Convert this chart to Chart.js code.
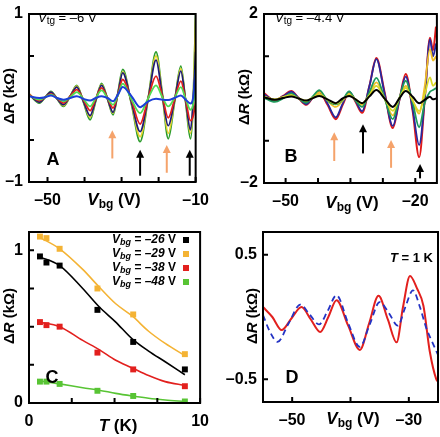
<!DOCTYPE html>
<html>
<head>
<meta charset="utf-8">
<script src="https://cdn.jsdelivr.net/npm/chart.js@4.4.0/dist/chart.umd.min.js"></script>
<style>
    body { margin: 0; background: #fff; }
    #page { position: relative; width: 440px; height: 437px; }
    canvas { position: absolute; }
</style>
</head>
<body>
<div id="page">
    <canvas id="panneau-a" width="220" height="218" style="left:0;top:0"></canvas>
    <canvas id="panneau-b" width="220" height="218" style="left:220px;top:0"></canvas>
    <canvas id="panneau-c" width="220" height="219" style="left:0;top:218px"></canvas>
    <canvas id="panneau-d" width="220" height="219" style="left:220px;top:218px"></canvas>
</div>
<script>
// ---- Panneau A : V_tg = -6 V (mesures à plusieurs températures)
const vbgA = [-55, -52.2, -50.6, -49.1, -47.4, -45.7, -43.9, -42.1, -40.3, -38.5, -37, -35.4, -33.8, -32.3, -31, -29.7, -27.3, -25.0, -22.8, -20.7, -19, -17.4, -15.7, -14.0, -12.7, -11.4, -10.7, -10];
const aVert = [0.05, -0.06, 0.01, 0.08, -0.01, -0.10, 0.02, 0.15, -0.05, -0.26, -0.04, 0.175, -0.01, -0.20, 0.06, 0.34, -0.08, -0.52, 0.00, 0.55, 0.05, -0.485, -0.05, 0.38, -0.05, -0.485, -0.10, 1.00];
const aJaune = [0.05, -0.05, 0.01, 0.07, -0.01, -0.09, 0.02, 0.14, -0.04, -0.23, -0.03, 0.16, -0.01, -0.18, 0.05, 0.31, -0.07, -0.46, 0.00, 0.50, 0.04, -0.42, -0.04, 0.35, -0.04, -0.42, -0.08, 0.95];
const aMarine = [0.04, -0.05, 0.01, 0.07, -0.01, -0.08, 0.02, 0.13, -0.04, -0.21, -0.03, 0.15, -0.01, -0.17, 0.05, 0.30, -0.06, -0.40, 0.00, 0.45, 0.03, -0.33, -0.03, 0.32, -0.03, -0.38, -0.06, 0.55];
const aRouge = [0.04, -0.03, 0.01, 0.05, 0.00, -0.06, 0.02, 0.10, -0.02, -0.15, -0.01, 0.12, 0.00, -0.12, 0.04, 0.22, -0.03, -0.31, 0.00, 0.26, 0.02, -0.235, -0.02, 0.20, -0.02, -0.27, -0.22, -0.05];
const aVertClair = [0.03, -0.02, 0.01, 0.04, 0.00, -0.04, 0.01, 0.07, -0.01, -0.10, 0.00, 0.09, 0.00, -0.08, 0.03, 0.17, -0.02, -0.18, 0.00, 0.15, 0.01, -0.10, 0.00, 0.13, -0.01, -0.14, -0.08, 0.15];
const aBleu = [0.02, 0.00, 0.01, 0.03, 0.00, -0.02, 0.00, 0.02, -0.01, -0.03, 0.00, 0.02, 0.00, -0.04, 0.04, 0.13, 0.02, -0.11, -0.04, -0.01, -0.02, -0.025, 0.00, 0.03, -0.02, -0.065, 0.00, 0.34];
// flèches : [V_bg, bas, pointe, couleur]
const flechesA = [[-32.5, -0.72, -0.385, "orange"], [-25, -0.925, -0.615, "noir"], [-17.8, -0.89, -0.56, "orange"], [-11.6, -0.925, -0.615, "noir"]];

// ---- Panneau B : V_tg = -4.4 V
const vbgB = [-55, -52.5, -50.6, -48.7, -47, -45.2, -43.7, -42.2, -40.3, -38.4, -36.8, -35.3, -33.8, -32.3, -30.6, -29.0, -27.1, -25.2, -23.7, -22.2, -20.6, -19.1, -17.8, -16.6, -15.9, -15.2];
const bRouge = [0.13, -0.05, 0.06, 0.175, 0.01, -0.15, 0.02, 0.15, -0.15, -0.49, -0.15, 0.15, -0.08, -0.34, 0.30, 0.96, 0.15, -0.70, -0.05, 0.58, -0.30, -1.39, 0.00, 1.44, 1.14, 1.70];
const bMarine = [0.10, -0.04, 0.05, 0.16, 0.01, -0.13, 0.03, 0.17, -0.12, -0.45, -0.12, 0.16, -0.06, -0.30, 0.30, 0.93, 0.12, -0.65, -0.05, 0.52, -0.25, -1.10, 0.00, 1.40, 1.00, 1.30];
const bOrange = [0.05, -0.03, 0.03, 0.10, 0.00, -0.08, 0.03, 0.15, -0.05, -0.20, -0.05, 0.12, -0.03, -0.15, 0.10, 0.38, 0.00, -0.40, 0.00, 0.30, -0.05, -0.36, 0.30, 1.17, 0.90, 1.00];
const bVert = [0.02, -0.08, 0.00, 0.12, 0.00, -0.10, 0.05, 0.20, -0.05, -0.14, -0.03, 0.17, -0.05, -0.20, 0.15, 0.49, 0.00, -0.49, 0.00, 0.42, -0.10, -0.68, -0.10, 0.16, 0.20, 0.25];
const bJaune = [0.04, -0.02, 0.03, 0.08, 0.00, -0.05, 0.02, 0.10, -0.03, -0.12, -0.02, 0.09, -0.02, -0.12, 0.08, 0.30, 0.00, -0.29, 0.00, 0.25, -0.05, -0.30, 0.10, 0.50, 0.30, 0.38];
const bNoir = [0.03, -0.03, 0.01, 0.05, 0.00, -0.05, 0.01, 0.06, -0.02, -0.11, 0.00, 0.06, -0.02, -0.11, 0.05, 0.20, 0.00, -0.20, 0.00, 0.175, 0.04, -0.11, -0.03, 0.04, -0.02, 0.00];
const flechesB = [[-38.75, -1.48, -0.80, "orange"], [-32.1, -1.30, -0.61, "noir"], [-25.6, -1.64, -0.98, "orange"], [-18.9, -1.89, -1.55, "noir"]];

// ---- Panneau C : amplitude en fonction de T
const tempC = [0.64, 1.02, 1.79, 4.0, 6.09, 9.11];
const c26 = [0.96, 0.92, 0.90, 0.61, 0.40, 0.22];
const c29 = [1.09, 1.08, 1.01, 0.75, 0.58, 0.32];
const c38 = [0.53, 0.51, 0.50, 0.33, 0.22, 0.11];
const c48 = [0.14, 0.14, 0.125, 0.08, 0.046, 0.01];
const tempAjust = [0.54, 1.79, 3.14, 4.1, 5.07, 6.03, 6.99, 7.96, 9.11];
const ajust26 = [0.96, 0.90, 0.75, 0.63, 0.53, 0.42, 0.34, 0.27, 0.185];
const ajust29 = [1.09, 1.01, 0.875, 0.76, 0.65, 0.57, 0.47, 0.39, 0.31];
const ajust38 = [0.53, 0.50, 0.41, 0.35, 0.28, 0.23, 0.18, 0.14, 0.115];
const ajust48 = [0.146, 0.125, 0.10, 0.084, 0.063, 0.046, 0.031, 0.02, 0.01];
const legendeC = ["–26", "–29", "–38", "–48"];

// ---- Panneau D : mesure (rouge) et calcul (tirets bleus) à T = 1 K
const vbgDRouge = [-55, -53.4, -51.8, -50.1, -48.4, -46.8, -45.2, -43.8, -42.4, -40.4, -38.4, -36.8, -35.2, -33.6, -32.1, -31.0, -29.8, -28.6, -27.5, -26.4, -25.3, -25.0];
const dRouge = [0.08, 0.00, -0.105, -0.01, 0.08, -0.02, -0.12, 0.00, 0.135, -0.07, -0.265, -0.05, 0.17, -0.02, -0.204, 0.08, 0.33, 0.23, 0.09, -0.28, -0.50, -0.52];
const vbgDBleu = [-55, -53.8, -52.5, -50.6, -48.6, -47.0, -45.4, -43.9, -42.4, -40.4, -38.4, -36.7, -35.0, -33.4, -31.9, -30.6, -29.3, -28.1, -27.0, -26.0, -25.0];
const dBleu = [0.015, -0.12, -0.20, -0.05, 0.10, 0.02, -0.06, 0.05, 0.175, -0.05, -0.24, -0.06, 0.12, 0.03, -0.07, 0.08, 0.215, 0.08, -0.09, -0.20, -0.305];

const POLICE = '"Liberation Sans", Arial, sans-serif';

function points(xs, ys) {
    return xs.map((x, i) => ({ x: x, y: ys[i] }));
}

function courbe(xs, ys, couleur, epaisseur) {
    return {
        data: points(xs, ys),
        showLine: true,
        borderColor: couleur,
        borderWidth: epaisseur || 1.8,
        pointRadius: 0,
        cubicInterpolationMode: "monotone"
    };
}

// écrit un texte en plusieurs morceaux (indices, italique...)
function texte(ctx, morceaux, x, y, align) {
    let largeur = 0;
    for (const m of morceaux) {
        ctx.font = m[1];
        largeur += ctx.measureText(m[0]).width;
    }
    let cx = align === "right" ? x - largeur : align === "center" ? x - largeur / 2 : x;
    ctx.textAlign = "left";
    ctx.textBaseline = "middle";
    for (const m of morceaux) {
        ctx.font = m[1];
        ctx.fillText(m[0], cx, y + (m[2] || 0));
        cx += ctx.measureText(m[0]).width;
    }
}

function titreVertical(ctx, x, y) {
    ctx.save();
    ctx.translate(x, y);
    ctx.rotate(-Math.PI / 2);
    texte(ctx, [["Δ", "bold 15px " + POLICE], ["R", "italic bold 15px " + POLICE], [" (kΩ)", "bold 15px " + POLICE]], 0, 0, "center");
    ctx.restore();
}

function titreVbg(ctx, x, y) {
    texte(ctx, [["V", "italic bold 17px " + POLICE], ["bg", "bold 12px " + POLICE, 5], [" (V)", "bold 17px " + POLICE]], x, y, "center");
}

function dessinerFleche(ctx, x, yBas, yPointe, couleur) {
    ctx.strokeStyle = couleur;
    ctx.fillStyle = couleur;
    ctx.lineWidth = 2;
    ctx.beginPath();
    ctx.moveTo(x, yBas);
    ctx.lineTo(x, yPointe + 6);
    ctx.stroke();
    ctx.beginPath();
    ctx.moveTo(x, yPointe);
    ctx.lineTo(x - 4, yPointe + 8);
    ctx.lineTo(x + 4, yPointe + 8);
    ctx.closePath();
    ctx.fill();
}

// cadre noir + graduations vers l'intérieur
const cadre = {
    id: "cadre",
    afterDatasetsDraw(chart) {
        const { ctx, chartArea: a, scales } = chart;
        ctx.save();
        ctx.strokeStyle = "#000";
        ctx.lineWidth = 2;
        ctx.strokeRect(a.left, a.top, a.right - a.left, a.bottom - a.top);
        ctx.beginPath();
        for (const t of scales.x.ticks) {
            const px = scales.x.getPixelForValue(t.value);
            ctx.moveTo(px, a.bottom);
            ctx.lineTo(px, a.bottom - 5);
        }
        for (const t of scales.y.ticks) {
            const py = scales.y.getPixelForValue(t.value);
            ctx.moveTo(a.left, py);
            ctx.lineTo(a.left + 5, py);
        }
        ctx.stroke();
        ctx.restore();
    }
};

function panneau(id, p) {
    const canvas = document.querySelector(id);
    const W = canvas.width;
    const H = canvas.height;
    const decor = {
        id: "decor",
        afterDraw(chart) {
            const ctx = chart.ctx;
            ctx.save();
            ctx.fillStyle = "#000";
            p.decor(ctx, chart);
            ctx.restore();
        }
    };
    return new Chart(canvas, {
        type: "scatter",
        data: { datasets: p.datasets },
        options: {
            responsive: false,
            animation: false,
            layout: { padding: { left: 0, top: p.zone[1], right: W - p.zone[2], bottom: 0 } },
            plugins: { legend: { display: false }, tooltip: { enabled: false } },
            scales: {
                x: {
                    type: "linear",
                    min: p.x[0],
                    max: p.x[1],
                    grid: { display: false, drawTicks: false },
                    border: { display: false },
                    afterBuildTicks: (s) => { s.ticks = p.ticksX.map((v) => ({ value: v })); },
                    afterFit: (s) => { s.height = H - p.zone[3]; },
                    ticks: {
                        autoSkip: false,
                        maxRotation: 0,
                        padding: p.padX,
                        color: "#000",
                        font: { family: POLICE, size: 16, weight: "bold", lineHeight: 1 },
                        callback: (v, i) => p.etiqX[i]
                    }
                },
                y: {
                    type: "linear",
                    min: p.y[0],
                    max: p.y[1],
                    grid: { display: false, drawTicks: false },
                    border: { display: false },
                    afterBuildTicks: (s) => { s.ticks = p.ticksY.map((v) => ({ value: v })); },
                    afterFit: (s) => { s.width = p.zone[0]; },
                    ticks: {
                        autoSkip: false,
                        padding: 6,
                        color: "#000",
                        font: { family: POLICE, size: 16, weight: "bold", lineHeight: 1 },
                        callback: (v, i) => p.etiqY[i]
                    }
                }
            }
        },
        plugins: [cadre, decor]
    });
}

const couleursFleche = { orange: "#f5a36b", noir: "#000" };

function dessinerFleches(ctx, chart, fleches) {
    const sx = chart.scales.x, sy = chart.scales.y;
    for (const f of fleches) {
        dessinerFleche(ctx, sx.getPixelForValue(f[0]), sy.getPixelForValue(f[1]), sy.getPixelForValue(f[2]), couleursFleche[f[3]]);
    }
}

// Panneau A
panneau("#panneau-a", {
    zone: [29, 7, 203, 182],
    x: [-55, -10], y: [-1, 1],
    ticksX: [-50, -40, -30, -20, -10], etiqX: ["–50", "", "", "", "–10"],
    ticksY: [-1, -0.5, 0.5, 1], etiqY: ["–1", "", "", "1"],
    padX: 11,
    datasets: [
        courbe(vbgA, aBleu, "#1c3fd8", 2),
        courbe(vbgA, aVertClair, "#52dc52"),
        courbe(vbgA, aRouge, "#e2201e"),
        courbe(vbgA, aMarine, "#1c1c78"),
        courbe(vbgA, aJaune, "#e6d432"),
        courbe(vbgA, aVert, "#2c9c2c")
    ],
    decor(ctx, chart) {
        dessinerFleches(ctx, chart, flechesA);
        ctx.fillStyle = "#000";
        texte(ctx, [["V", "italic 13px " + POLICE], ["tg", "10px " + POLICE, 3], [" = –6 V", "13px " + POLICE]], 38, 18, "left");
        texte(ctx, [["A", "bold 18px " + POLICE]], 53, 160, "center");
        titreVertical(ctx, 10, 96);
        titreVbg(ctx, 114, 200);
    }
});

// Panneau B
panneau("#panneau-b", {
    zone: [44, 7, 217, 183],
    x: [-55, -15], y: [-2, 2],
    ticksX: [-50, -42.5, -35, -27.5, -20], etiqX: ["–50", "", "", "", "–20"],
    ticksY: [-2, -1, 1, 2], etiqY: ["–2", "", "", "2"],
    padX: 11,
    datasets: [
        courbe(vbgB, bNoir, "#000000", 2),
        courbe(vbgB, bJaune, "#d8d826"),
        courbe(vbgB, bVert, "#1f9a5c"),
        courbe(vbgB, bOrange, "#f0c028"),
        courbe(vbgB, bMarine, "#28289e"),
        courbe(vbgB, bRouge, "#e01818", 2)
    ],
    decor(ctx, chart) {
        dessinerFleches(ctx, chart, flechesB);
        ctx.fillStyle = "#000";
        texte(ctx, [["V", "italic 13px " + POLICE], ["tg", "10px " + POLICE, 3], [" = –4.4 V", "13px " + POLICE]], 55, 18, "left");
        texte(ctx, [["B", "bold 18px " + POLICE]], 71, 157, "center");
        titreVertical(ctx, 25, 97);
        titreVbg(ctx, 132, 203);
    }
});

// Panneau C
const couleursC = ["#000000", "#f4b334", "#e2201e", "#58c434"];
const mesuresC = [c26, c29, c38, c48];
const ajustC = [ajust26, ajust29, ajust38, ajust48];
const datasetsC = [];
for (let i = 0; i < mesuresC.length; i++) {
    datasetsC.push({
        data: points(tempC, mesuresC[i]),
        pointStyle: "rect",
        pointRadius: 4.2,
        backgroundColor: couleursC[i],
        borderColor: couleursC[i],
        borderWidth: 0
    });
    datasetsC.push(courbe(tempAjust, ajustC[i], couleursC[i], 1.6));
}
panneau("#panneau-c", {
    zone: [29, 8, 202, 185],
    x: [0, 10], y: [0, 1.12],
    ticksX: [0, 2.5, 5, 7.5, 10], etiqX: ["0", "", "", "", "10"],
    ticksY: [0, 0.25, 0.5, 0.75, 1], etiqY: ["0", "", "", "", "1"],
    padX: 11,
    datasets: datasetsC,
    decor(ctx) {
        for (let i = 0; i < legendeC.length; i++) {
            const y = 22 + i * 14;
            ctx.fillStyle = "#000";
            texte(ctx, [["V", "italic bold 12px " + POLICE], ["bg", "italic bold 9px " + POLICE, 3], [" = " + legendeC[i], "italic bold 12px " + POLICE], [" V", "bold 12px " + POLICE]], 176, y, "right");
            ctx.fillStyle = couleursC[i];
            ctx.fillRect(183, y - 3, 6, 6);
        }
        ctx.fillStyle = "#000";
        texte(ctx, [["C", "bold 18px " + POLICE]], 52, 160, "center");
        titreVertical(ctx, 10, 98);
        texte(ctx, [["T", "italic bold 17px " + POLICE], [" (K)", "bold 17px " + POLICE]], 118, 208, "center");
    }
});

// Panneau D
panneau("#panneau-d", {
    zone: [43, 13, 218, 184],
    x: [-55, -25], y: [-0.684, 0.684],
    ticksX: [-50, -40, -30], etiqX: ["–50", "", "–30"],
    ticksY: [-0.5, 0.5], etiqY: ["–0.5", "0.5"],
    padX: 11,
    datasets: [
        Object.assign(courbe(vbgDBleu, dBleu, "#2433c4", 1.8), { borderDash: [6, 4] }),
        courbe(vbgDRouge, dRouge, "#e2201e", 2)
    ],
    decor(ctx) {
        texte(ctx, [["T", "italic bold 13px " + POLICE], [" = 1 K", "bold 13px " + POLICE]], 213, 40, "right");
        texte(ctx, [["D", "bold 18px " + POLICE]], 72, 160, "center");
        titreVertical(ctx, 33, 98);
        titreVbg(ctx, 133, 201);
    }
});
</script>
</body>
</html>
